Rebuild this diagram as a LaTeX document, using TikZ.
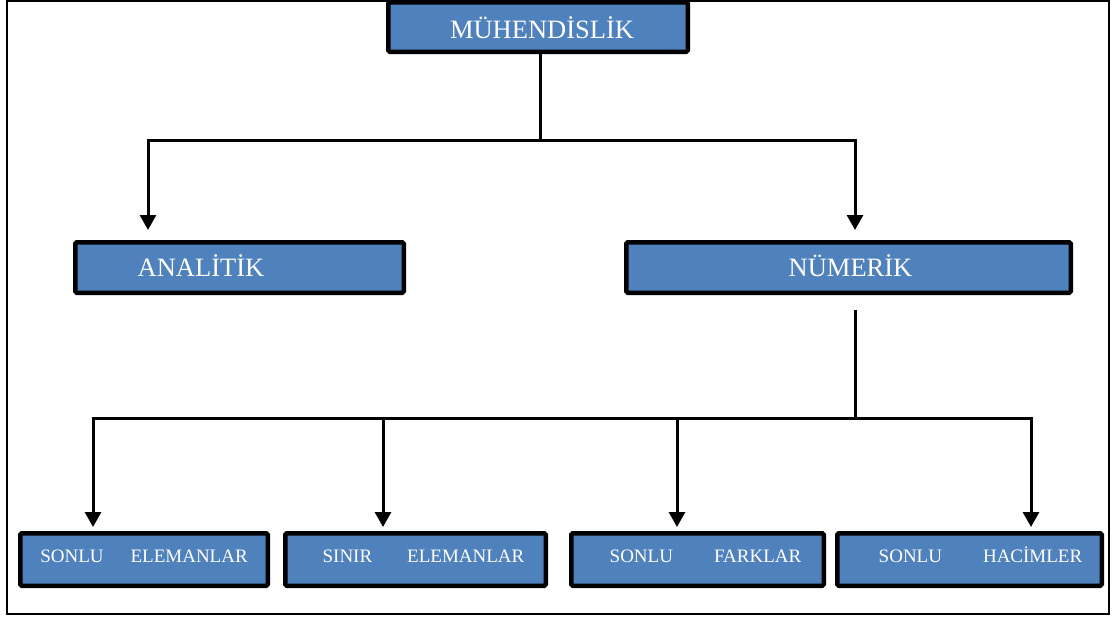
\documentclass[tikz,border=0pt]{standalone}
\usepackage{fontspec}
\setmainfont{Liberation Serif}
\usetikzlibrary{arrows.meta}
\definecolor{boxblue}{HTML}{4F81BD}

\begin{document}
\begin{tikzpicture}[x=1pt, y=-1pt, >={Triangle[width=16pt,length=15pt]},
  every node/.style={font=\fontsize{26.5}{30}\selectfont, text height=17.5pt, text depth=0pt},
  box/.style={draw=black, line width=4.5pt, fill=boxblue, text=white, rounded corners=1.5pt, inner sep=0pt},
  small/.style={font=\fontsize{19}{23}\selectfont, text height=13pt, text depth=7pt, minimum height=52.5pt},
  link/.style={line width=3pt}]
  \useasboundingbox (0,0) rectangle (1115,619);
  \draw[line width=2.2pt] (7,1) rectangle (1109,614);

  % Top
  \node[box, minimum width=299.5pt, minimum height=49.5pt, text height=23.5pt] (muh) at (538,27) {\hspace*{8pt}MÜHENDİSLİK};

  % Middle
  \node[box, minimum width=328.5pt, minimum height=50.5pt] (ana) at (239.5,267.5) {ANALİTİK\hspace*{77pt}};
  \node[box, minimum width=444.5pt, minimum height=50.5pt] (num) at (848.5,267.5) {\hspace*{4pt}NÜMERİK};

  % Bottom
  \node[box, small, minimum width=247.5pt] (b1) at (144,559.5) {SONLU\hspace{27pt}ELEMANLAR};
  \node[box, small, minimum width=260.5pt] (b2) at (415.5,559.5) {\hspace*{16pt}SINIR\hspace{35pt}ELEMANLAR};
  \node[box, small, minimum width=252.5pt] (b3) at (697.5,559.5) {\hspace*{16pt}SONLU\hspace{41pt}FARKLAR};
  \node[box, small, minimum width=264.5pt] (b4) at (969.5,559.5) {\hspace*{22pt}SONLU\hspace{41pt}HACİMLER};

  % Links
  \coordinate (topsplit) at (540,140);
  \draw[link] ([xshift=2pt]muh.south) -- (topsplit);
  \draw[link,->] (topsplit) -| ([xshift=-91.5pt,yshift=10pt]ana.north);
  \draw[link,->] (topsplit) -| ([xshift=6.5pt,yshift=10pt]num.north);

  \coordinate (numsplit) at (855,418);
  \draw[link] ([xshift=6.5pt,yshift=-15.25pt]num.south) -- (numsplit);
  \draw[link,->] (numsplit) -| ([xshift=-51pt,yshift=4pt]b1.north);
  \draw[link,->] (numsplit) -| ([xshift=-32.5pt,yshift=4pt]b2.north);
  \draw[link,->] (numsplit) -| ([xshift=-20.5pt,yshift=4pt]b3.north);
  \draw[link,->] (numsplit) -| ([xshift=61.5pt,yshift=4pt]b4.north);
\end{tikzpicture}
\end{document}
